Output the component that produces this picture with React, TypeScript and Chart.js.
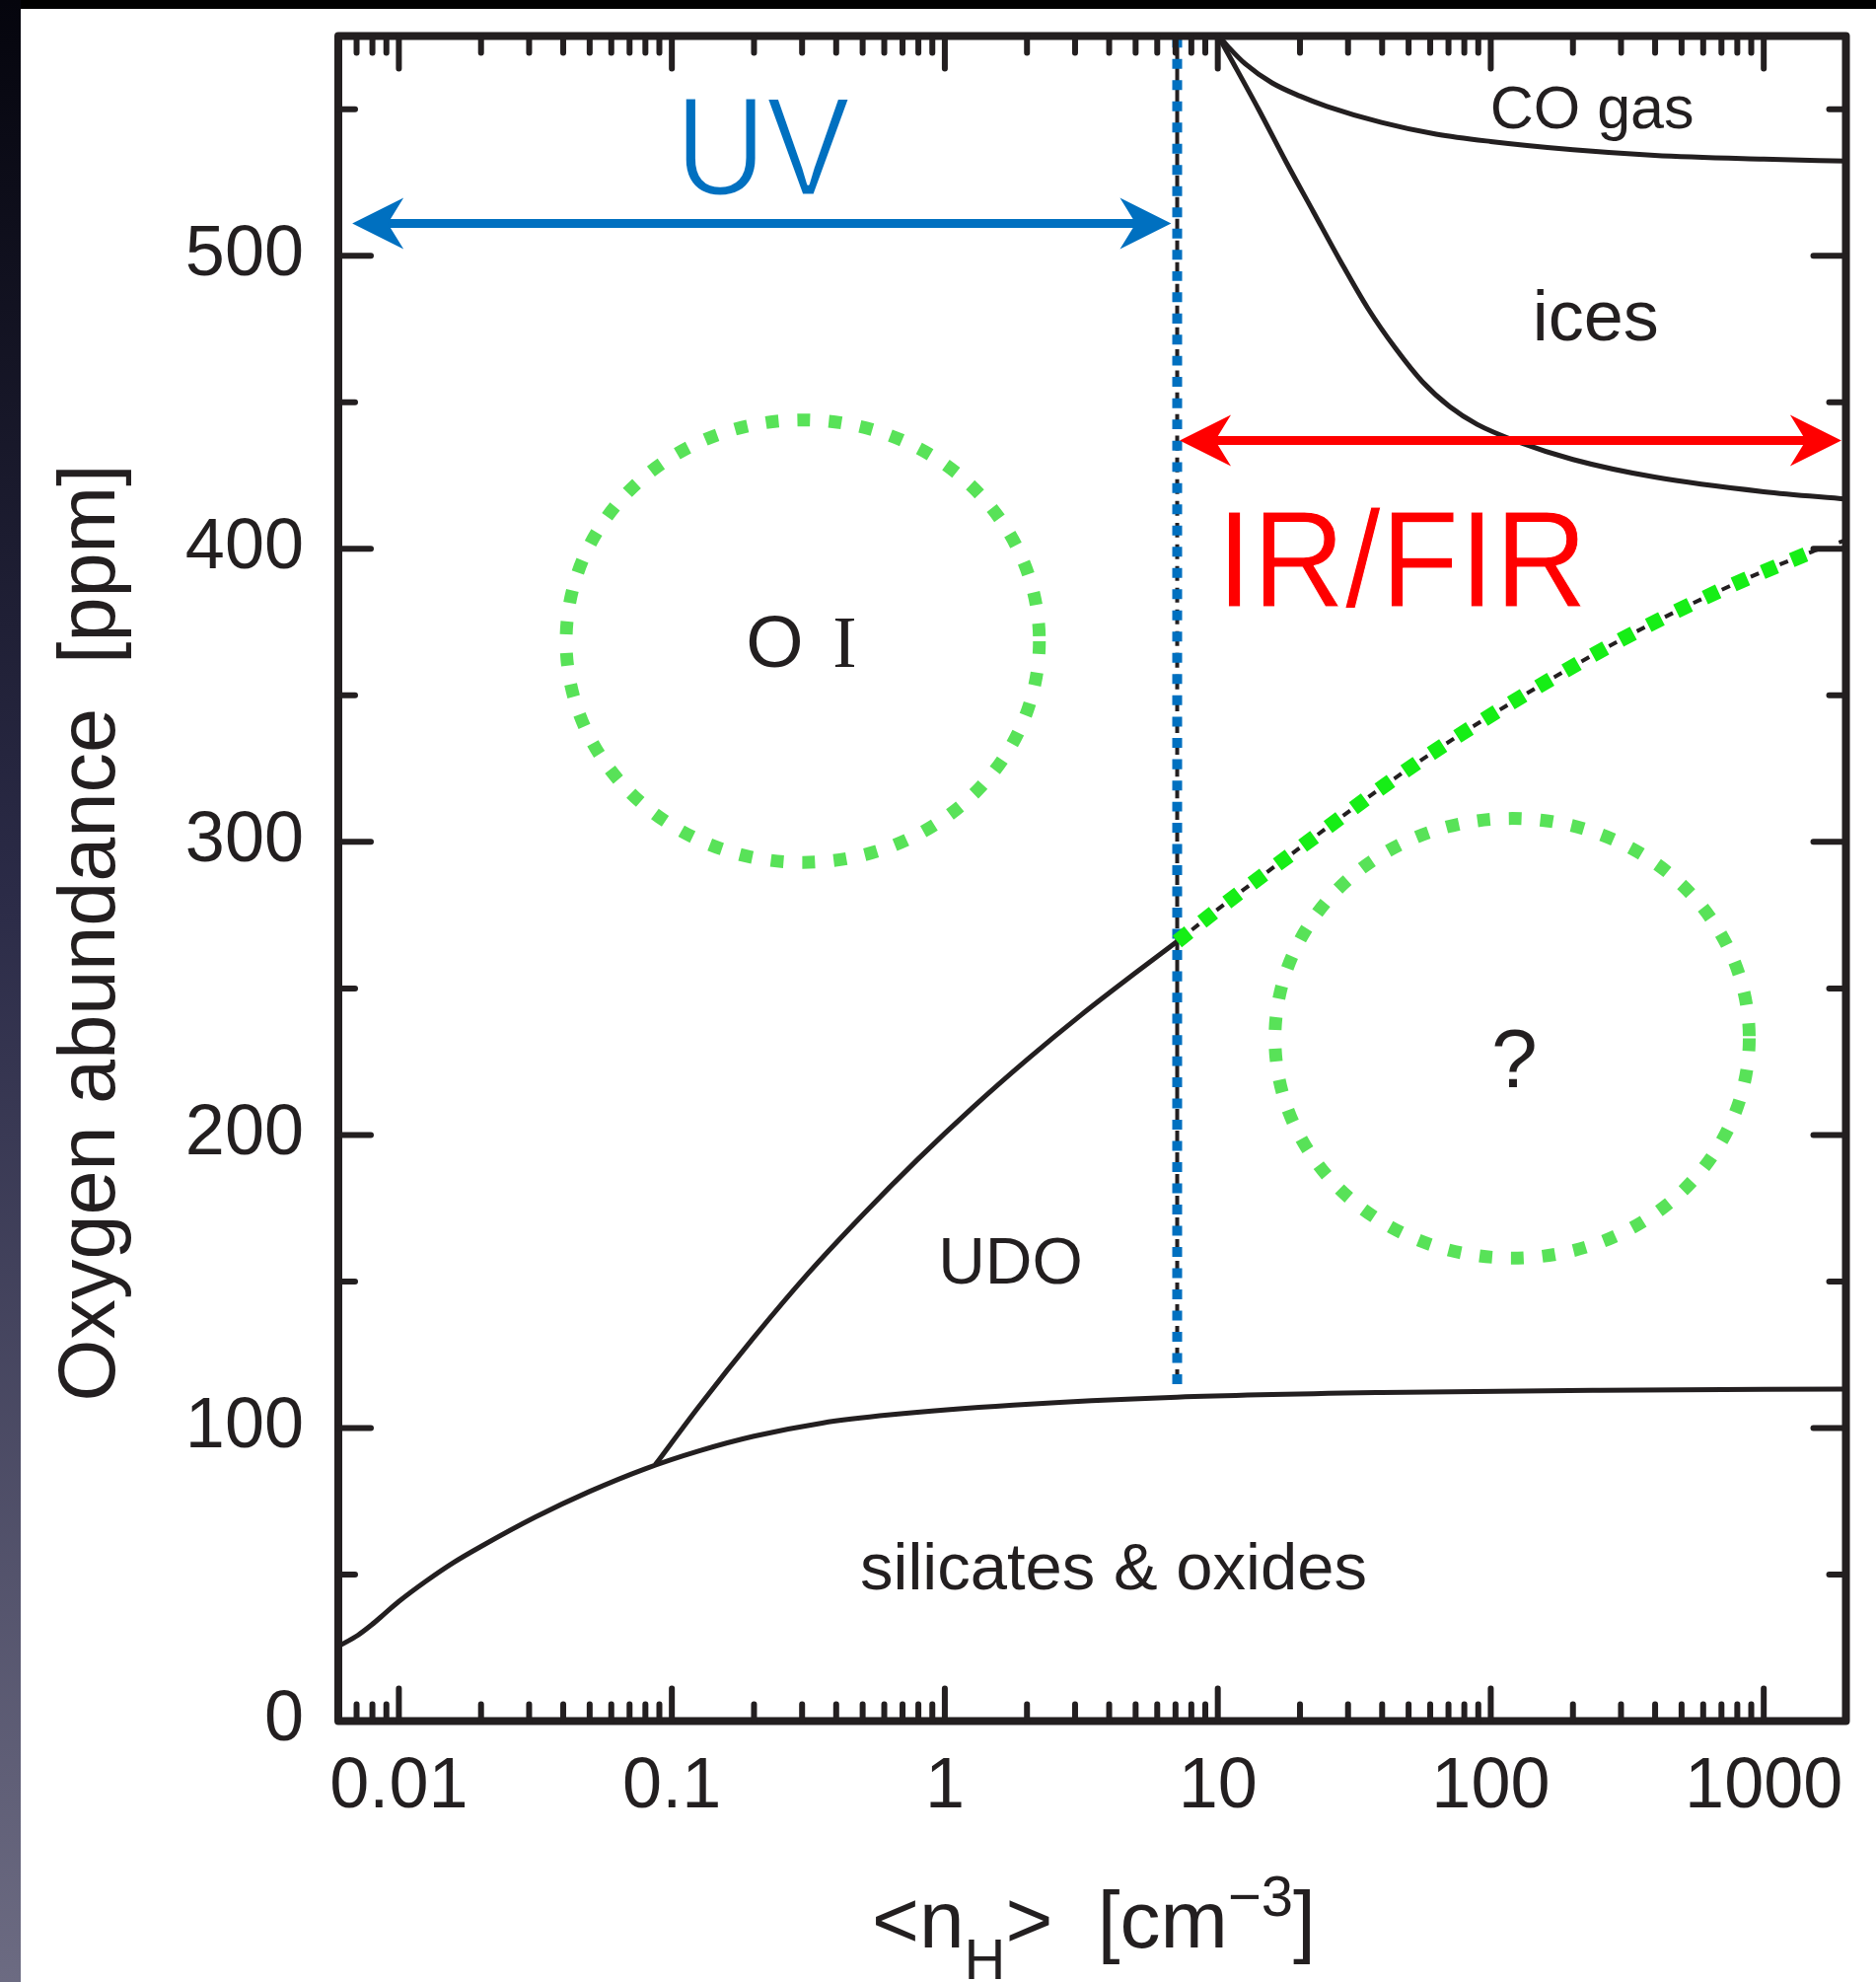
import React, { useEffect, useRef } from 'react';
import { Chart, registerables } from 'chart.js';

Chart.register(...registerables);

const W = 1902;
const H = 2009;

// Axis ranges: mean hydrogen density <n_H> [cm^-3] and oxygen abundance [ppm]
const X_MIN = 0.006;
const X_MAX = 2000;
const Y_MIN = 0;
const Y_MAX = 575;
const Y_MAJOR_TICKS = [100, 200, 300, 400, 500];
const Y_MINOR_TICKS = [50, 150, 250, 350, 450, 550];

// Oxygen in silicates & oxides
const silicatesX = [0.006, 0.00708, 0.00794, 0.00891, 0.01, 0.0126, 0.0158, 0.02, 0.0316, 0.0501, 0.0794, 0.126, 0.2, 0.355, 0.631, 1.78, 7.08, 39.8, 251, 2000];
const silicatesY = [25.5, 29.3, 32.8, 36.8, 40.8, 47.8, 54.0, 59.6, 69.6, 78.4, 86.0, 92.2, 97.2, 101.7, 104.5, 107.8, 110.5, 112.1, 112.9, 113.3];

// Upper edge of the unidentified depleted oxygen (UDO)
const udoX = [0.087, 0.126, 0.2, 0.316, 0.501, 0.794, 1.259, 1.995, 3.162, 5.012, 7.1];
const udoY = [87.5, 107.5, 131, 152.8, 172.8, 191.6, 209.2, 225.6, 241, 255.4, 266];

// Extrapolation of the UDO edge into the dense medium
const extrapX = [7.1, 10, 20, 50, 112, 300, 700, 1500, 2000];
const extrapY = [266, 277, 298, 325, 346, 369, 386, 399, 403];
const extrapGreenX = [7.1, 10, 20, 50, 112, 300, 700, 1500];
const extrapGreenY = [266, 277, 298, 325, 346, 369, 386, 399];

// Gas-phase CO
const coX = [10, 11, 12.6, 15.8, 20, 25.1, 39.8, 63.1, 100, 200, 398, 1000, 2000];
const coY = [575.5, 571, 565.5, 559, 554.5, 551, 545.5, 541.5, 539, 536.2, 534.3, 533, 532.3];

// Lower edge of ices
const icesX = [9.9, 11.2, 14.1, 17.8, 22.4, 28.2, 35.5, 44.7, 56.2, 70.8, 89.1, 126, 200, 398, 1000, 2000];
const icesY = [576, 567, 550, 532, 515, 498, 482, 468.5, 457, 448.5, 442.5, 436.5, 430.5, 424.5, 419.5, 417];

// UV / IR transition density
const transitionX = [7.1, 7.1];
const transitionY = [115, 575];

// Arrow extents
const uvArrowX = [0.00675, 6.75];
const uvArrowY = 511;
const irArrowX = [7.25, 1925];
const irArrowY = 437;

// Dotted region outlines: [xLeft, xRight, yBottom, yTop]
const oiRegion = [0.041, 2.22, 293, 444];
const unknownRegion = [16.2, 885, 158, 308];

const BLACK = '#231f20';
const BLUE = '#0070c0';
const RED = '#ff0000';
const GREEN_LINE = '#16ee16';
const GREEN_RING = '#58e258';

const pts = (xs: number[], ys: number[]) => xs.map((x, i) => ({ x, y: ys[i] }));

function arrowHead(ctx: CanvasRenderingContext2D, tipX: number, y: number, dir: number) {
  const len = 52;
  const half = 26;
  const notch = 36;
  ctx.beginPath();
  ctx.moveTo(tipX, y);
  ctx.lineTo(tipX + dir * len, y - half);
  ctx.lineTo(tipX + dir * notch, y);
  ctx.lineTo(tipX + dir * len, y + half);
  ctx.closePath();
  ctx.fill();
}

function doubleArrow(ctx: CanvasRenderingContext2D, x1: number, x2: number, y: number, color: string) {
  ctx.save();
  ctx.strokeStyle = color;
  ctx.fillStyle = color;
  ctx.lineWidth = 9;
  ctx.lineCap = 'butt';
  ctx.beginPath();
  ctx.moveTo(x1 + 34, y);
  ctx.lineTo(x2 - 34, y);
  ctx.stroke();
  arrowHead(ctx, x1, y, 1);
  arrowHead(ctx, x2, y, -1);
  ctx.restore();
}

const decorations = {
  id: 'decorations',
  beforeDraw(chart: any) {
    const ctx: CanvasRenderingContext2D = chart.ctx;
    ctx.save();
    ctx.fillStyle = '#ffffff';
    ctx.fillRect(0, 0, W, H);
    ctx.fillStyle = '#000000';
    ctx.fillRect(0, 0, W, 9);
    const g = ctx.createLinearGradient(0, 0, 0, H);
    g.addColorStop(0, '#05050d');
    g.addColorStop(0.45, '#2b2b47');
    g.addColorStop(1, '#6c6b82');
    ctx.fillStyle = g;
    ctx.fillRect(0, 0, 21, H);
    ctx.restore();
  },
  afterDraw(chart: any) {
    const ctx: CanvasRenderingContext2D = chart.ctx;
    const xs = chart.scales.x;
    const ys = chart.scales.y;
    const { left, right, top, bottom } = chart.chartArea;
    const px = (v: number) => xs.getPixelForValue(v);
    const py = (v: number) => ys.getPixelForValue(v);

    ctx.save();
    ctx.beginPath();
    ctx.rect(left, top, right - left, bottom - top);
    ctx.clip();

    // dotted outlines of the O I and unknown regions
    [oiRegion, unknownRegion].forEach((r) => {
      const x1 = px(r[0]);
      const x2 = px(r[1]);
      const y1 = py(r[2]);
      const y2 = py(r[3]);
      ctx.save();
      ctx.strokeStyle = GREEN_RING;
      ctx.lineWidth = 13;
      ctx.setLineDash([13, 19]);
      ctx.beginPath();
      ctx.ellipse((x1 + x2) / 2, (y1 + y2) / 2, Math.abs(x2 - x1) / 2, Math.abs(y1 - y2) / 2, 0, 0, Math.PI * 2);
      ctx.stroke();
      ctx.restore();
    });

    doubleArrow(ctx, px(uvArrowX[0]), px(uvArrowX[1]), py(uvArrowY), BLUE);
    doubleArrow(ctx, px(irArrowX[0]), px(irArrowX[1]), py(irArrowY), RED);

    const sans = '"Liberation Sans", Arial, sans-serif';
    const serif = '"Liberation Serif", "Times New Roman", serif';
    const label = (text: string, x: number, y: number, size: number, color: string, align: CanvasTextAlign) => {
      ctx.font = `${size}px ${sans}`;
      ctx.fillStyle = color;
      ctx.textAlign = align;
      ctx.textBaseline = 'alphabetic';
      ctx.fillText(text, px(x), py(y));
    };

    // large, slightly condensed region captions
    const caption = (text: string, x: number, y: number, size: number, color: string, align: CanvasTextAlign, squeeze: number, thin: number) => {
      ctx.save();
      ctx.translate(px(x), py(y));
      ctx.scale(squeeze, 1);
      ctx.font = `${size}px ${sans}`;
      ctx.textAlign = align;
      ctx.textBaseline = 'alphabetic';
      ctx.fillStyle = color;
      ctx.fillText(text, 0, 0);
      if (thin > 0) {
        ctx.strokeStyle = '#ffffff';
        ctx.lineWidth = thin;
        ctx.lineJoin = 'round';
        ctx.strokeText(text, 0, 0);
      }
      ctx.restore();
    };
    caption('UV', 0.215, 520.7, 142, BLUE, 'center', 0.9, 3);
    caption('IR/FIR', 9.9, 380.4, 140, RED, 'left', 0.93, 1);

    label('CO gas', 235, 543.6, 61, BLACK, 'center');
    label('ices', 242, 471, 72, BLACK, 'center');
    label('UDO', 1.74, 149.3, 66, BLACK, 'center');
    label('silicates & oxides', 4.15, 44.8, 67, BLACK, 'center');
    label('?', 122, 216.3, 84, BLACK, 'center');

    // "O I": latin O with a roman-numeral I
    const oiX = px(0.3);
    const oiY = py(359.6);
    ctx.textAlign = 'left';
    ctx.fillStyle = BLACK;
    ctx.font = `75px ${sans}`;
    ctx.fillText('O', oiX - 57, oiY);
    ctx.font = `73px ${serif}`;
    ctx.fillText('I', oiX + 31, oiY);
    ctx.restore();

    // frame
    ctx.save();
    ctx.strokeStyle = BLACK;
    ctx.lineWidth = 8;
    ctx.lineJoin = 'round';
    ctx.strokeRect(left, top, right - left, bottom - top);

    // inward ticks on all four sides
    ctx.lineWidth = 6;
    ctx.lineCap = 'round';
    const major = 33;
    const minor = 17;
    ctx.beginPath();
    for (let e = -3; e <= 3; e++) {
      for (let m = 1; m <= 9; m++) {
        const v = m * Math.pow(10, e);
        if (v <= X_MIN * 1.001 || v >= X_MAX * 0.999) continue;
        const x = px(v);
        const len = m === 1 ? major : minor;
        ctx.moveTo(x, bottom);
        ctx.lineTo(x, bottom - len);
        ctx.moveTo(x, top);
        ctx.lineTo(x, top + len);
      }
    }
    const yTick = (v: number, len: number) => {
      const y = py(v);
      ctx.moveTo(left, y);
      ctx.lineTo(left + len, y);
      ctx.moveTo(right, y);
      ctx.lineTo(right - len, y);
    };
    Y_MAJOR_TICKS.forEach((v) => yTick(v, major));
    Y_MINOR_TICKS.forEach((v) => yTick(v, minor));
    ctx.stroke();
    ctx.restore();

    // axis titles
    ctx.save();
    ctx.fillStyle = BLACK;
    ctx.textBaseline = 'alphabetic';
    ctx.textAlign = 'center';
    ctx.translate(116, (top + bottom) / 2 + 55);
    ctx.rotate(-Math.PI / 2);
    ctx.font = `81px ${sans}`;
    ctx.fillText('Oxygen abundance  [ppm]', 0, 0);
    ctx.restore();

    ctx.save();
    ctx.fillStyle = BLACK;
    ctx.textBaseline = 'alphabetic';
    ctx.textAlign = 'left';
    const main = `82px ${sans}`;
    const small = `58px ${sans}`;
    const base = 1974;
    let cx = 884;
    const put = (t: string, font: string, dy: number) => {
      ctx.font = font;
      ctx.fillText(t, cx, base + dy);
      cx += ctx.measureText(t).width;
    };
    put('<n', main, 0);
    put('H', small, 32);
    put('>  [cm', main, 0);
    put('\u22123', small, -32);
    put(']', main, 0);
    ctx.restore();
  },
};

export default function App() {
  const ref = useRef<HTMLCanvasElement | null>(null);

  useEffect(() => {
    if (!ref.current) return;
    const line = (data: any[], color: string, width: number, dash: number[] = [], dashOffset = 0) => ({
      data,
      borderColor: color,
      borderWidth: width,
      borderDash: dash,
      borderDashOffset: dashOffset,
      borderCapStyle: 'butt',
      pointRadius: 0,
      fill: false,
      cubicInterpolationMode: 'monotone',
    });
    const chart = new Chart(ref.current, {
      type: 'line',
      data: {
        datasets: [
          { ...line(pts(extrapGreenX, extrapGreenY), GREEN_LINE, 15, [15, 17]), label: 'UDO extrapolation (dotted)' },
          { ...line(pts(transitionX, transitionY), BLUE, 10, [10, 11.5]), label: 'UV/IR boundary' },
          { ...line(pts(transitionX, transitionY), BLACK, 4, [15, 7]), label: 'UV/IR boundary (dashed)' },
          { ...line(pts(extrapX, extrapY), BLACK, 4, [9, 23], 13), label: 'UDO extrapolation' },
          { ...line(pts(coX, coY), BLACK, 5), label: 'CO gas' },
          { ...line(pts(icesX, icesY), BLACK, 5), label: 'ices' },
          { ...line(pts(udoX, udoY), BLACK, 5), label: 'UDO' },
          { ...line(pts(silicatesX, silicatesY), BLACK, 5), label: 'silicates & oxides' },
        ] as any,
      },
      options: {
        animation: false,
        responsive: false,
        devicePixelRatio: 1,
        events: [],
        layout: { padding: { left: 0, top: 36.5, right: 30.5, bottom: 0 } },
        plugins: { legend: { display: false }, tooltip: { enabled: false } },
        scales: {
          x: {
            type: 'logarithmic',
            min: X_MIN,
            max: X_MAX,
            grid: { display: false, drawTicks: false },
            border: { display: false },
            ticks: {
              autoSkip: false,
              maxRotation: 0,
              minRotation: 0,
              padding: 24,
              color: BLACK,
              font: { family: '"Liberation Sans", Arial, sans-serif', size: 72 },
              callback: (value: any) => {
                const l = Math.log10(Number(value));
                const e = Math.round(l);
                if (Math.abs(l - e) > 1e-6) return '';
                return e >= 0 ? String(Math.pow(10, e)) : Math.pow(10, e).toFixed(-e);
              },
            },
            afterFit: (s: any) => {
              s.height = 264.5;
              s.paddingLeft = 0;
              s.paddingRight = 0;
            },
          },
          y: {
            type: 'linear',
            min: Y_MIN,
            max: Y_MAX,
            grid: { display: false, drawTicks: false },
            border: { display: false },
            ticks: {
              stepSize: 100,
              includeBounds: false,
              padding: 35,
              color: BLACK,
              font: { family: '"Liberation Sans", Arial, sans-serif', size: 72 },
            },
            afterFit: (s: any) => {
              s.width = 343;
              s.paddingTop = 0;
              s.paddingBottom = 0;
            },
          },
        },
      } as any,
      plugins: [decorations],
    });
    return () => chart.destroy();
  }, []);

  return (
    <div style={{ position: 'absolute', left: 0, top: 0, width: W, height: H }}>
      <canvas ref={ref} width={W} height={H} style={{ display: 'block', width: W, height: H }} />
    </div>
  );
}
